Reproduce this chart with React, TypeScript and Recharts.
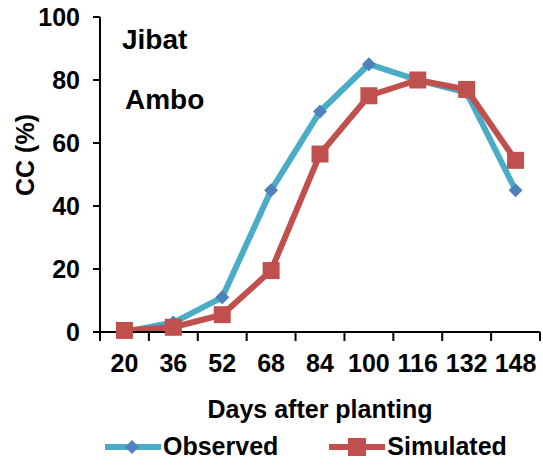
import { LineChart, Line, XAxis, YAxis, Legend, Customized } from "recharts";

const days = [20, 36, 52, 68, 84, 100, 116, 132, 148];
const observed = [0, 3, 11, 45, 70, 85, 80, 76, 45];
const simulated = [0.5, 1.5, 5.5, 19.5, 56.5, 75, 80, 77, 54.5];
const yTicks = [0, 20, 40, 60, 80, 100];

const data = days.map((d, i) => ({ day: d, observed: observed[i], simulated: simulated[i] }));

const FONT = "'Liberation Sans', Arial, sans-serif";
const FS = 25;
const OBS_LINE = "#4BACC6";
const OBS_MARK = "#4F81BD";
const SIM = "#C0504D";
// half of one category band in px (plot is 440px wide over 144 days)
const HALF = (440 / 144) * 8;

const XTick = (props: any) => {
  const { x, y, payload, index } = props;
  return (
    <g>
      <line x1={x - HALF} x2={x - HALF} y1={y} y2={y + 9} stroke="#000" strokeWidth={2} />
      {index === days.length - 1 && (
        <line x1={x + HALF} x2={x + HALF} y1={y} y2={y + 9} stroke="#000" strokeWidth={2} />
      )}
      <text x={x} y={y + 31} textAnchor="middle" dominantBaseline="central" fontFamily={FONT} fontWeight="bold" fontSize={FS} fill="#000">
        {payload.value}
      </text>
    </g>
  );
};

const Diamond = (p: any) => {
  const { cx, cy, index } = p;
  const r = 7;
  return (
    <polygon key={`o-${index}`} points={`${cx},${cy - r} ${cx + r},${cy} ${cx},${cy + r} ${cx - r},${cy}`} fill={OBS_MARK} />
  );
};

const Square = (p: any) => {
  const { cx, cy, index } = p;
  return <rect key={`s-${index}`} x={cx - 8.5} y={cy - 8.5} width={17} height={17} fill={SIM} />;
};

const LegendContent = () => (
  <div style={{ display: "flex", alignItems: "center", paddingLeft: 104, fontFamily: FONT, fontWeight: "bold", fontSize: FS, color: "#000" }}>
    <svg width={58} height={20}>
      <line x1={1} x2={57} y1={10} y2={10} stroke={OBS_LINE} strokeWidth={6} />
      <polygon points="28,3 35,10 28,17 21,10" fill={OBS_MARK} />
    </svg>
    <span style={{ marginLeft: 1 }}>Observed</span>
    <svg width={58} height={20} style={{ marginLeft: 50 }}>
      <line x1={1} x2={57} y1={10} y2={10} stroke={SIM} strokeWidth={6} />
      <rect x={20} y={1} width={18} height={18} fill={SIM} />
    </svg>
    <span style={{ marginLeft: 1 }}>Simulated</span>
  </div>
);

const Notes = () => (
  <g fontFamily={FONT} fontWeight="bold" fill="#000">
    <text x={122} y={39} fontSize={28} dominantBaseline="central">Jibat</text>
    <text x={125} y={99} fontSize={28} dominantBaseline="central">Ambo</text>
    <text x={25} y={155} fontSize={FS} transform="rotate(-90 25 155)" textAnchor="middle" dominantBaseline="central">CC (%)</text>
  </g>
);

export default function App() {
  return (
    <div style={{ position: "absolute", left: 0, top: 0, background: "#fff" }}>
      <LineChart width={543} height={473} data={data} margin={{ top: 17, right: 3, bottom: 0, left: 0 }}>
        <XAxis
          dataKey="day"
          type="number"
          domain={[12, 156]}
          ticks={days}
          interval={0}
          height={100}
          tickLine={false}
          tickSize={0}
          tickMargin={0}
          tick={<XTick />}
          axisLine={{ stroke: "#000", strokeWidth: 2 }}
          label={{ value: "Days after planting", position: "insideBottom", offset: 14, fontFamily: FONT, fontWeight: "bold", fontSize: FS, fill: "#000" }}
        />
        <YAxis
          domain={[0, 100]}
          ticks={yTicks}
          width={100}
          tickSize={7}
          tickMargin={13}
          tickLine={{ stroke: "#000", strokeWidth: 2 }}
          axisLine={{ stroke: "#000", strokeWidth: 2 }}
          tick={{ fontFamily: FONT, fontWeight: "bold", fontSize: FS, fill: "#000" }}
        />
        <Legend verticalAlign="bottom" height={41} content={<LegendContent />} wrapperStyle={{ left: 0, width: 543, bottom: 0 }} />
        <Line dataKey="observed" name="Observed" stroke={OBS_LINE} strokeWidth={6} dot={Diamond} activeDot={false} isAnimationActive={false} />
        <Line dataKey="simulated" name="Simulated" stroke={SIM} strokeWidth={6} dot={Square} activeDot={false} isAnimationActive={false} />
        <Customized component={Notes} />
      </LineChart>
    </div>
  );
}
